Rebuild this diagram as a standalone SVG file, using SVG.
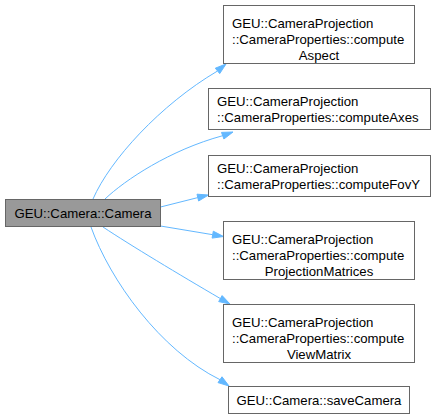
<svg xmlns="http://www.w3.org/2000/svg" width="435" height="419" viewBox="0 0 435 419">
<style>
text{font-family:"Liberation Sans",Arial,Helvetica,sans-serif;font-size:13.2px;fill:#000}
.n{fill:#fff;stroke:#666;stroke-width:1}
.m{fill:#999;stroke:#666;stroke-width:1}
.e{fill:none;stroke:#63b8ff;stroke-width:1}
.a{fill:#63b8ff;stroke:#63b8ff;stroke-width:1}
</style>
<rect width="435" height="419" fill="#fff"/>
<g id="edges">
<path class="e" d="M93,199 C110,160 160,105 217.5,71"/>
<polygon class="a" points="226,64 219.7,73.6 215.3,68.2"/>
<path class="e" d="M105,199 C125,180 170,150 222.7,135.7"/>
<polygon class="a" points="233,132 223.9,139 221.5,132.4"/>
<path class="e" d="M160.5,207 L197.8,197.6"/>
<polygon class="a" points="208.5,195 198.6,201 197,194.2"/>
<path class="e" d="M160.5,226 L212.7,234.7"/>
<polygon class="a" points="223.5,236.5 212.1,238.1 213.3,231.2"/>
<path class="e" d="M103,227 C130,245 180,275 220.4,298.6"/>
<polygon class="a" points="230,304 218.7,301.6 222.1,295.6"/>
<path class="e" d="M91,227 C110,280 160,350 220,379.7"/>
<polygon class="a" points="229,386 218,382.6 222,376.8"/>
</g>
<g id="node-main">
<rect class="m" x="5.5" y="199.5" width="155" height="27"/>
<text x="83" y="217.5" text-anchor="middle">GEU::Camera::Camera</text>
</g>
<g id="node-aspect">
<rect class="n" x="223.5" y="5.5" width="191" height="58"/>
<text x="232" y="27.5">GEU::CameraProjection</text>
<text x="232" y="43.5">::CameraProperties::compute</text>
<text x="319" y="59.5" text-anchor="middle">Aspect</text>
</g>
<g id="node-axes">
<rect class="n" x="208.5" y="88.5" width="222" height="41"/>
<text x="217" y="106">GEU::CameraProjection</text>
<text x="217" y="122">::CameraProperties::computeAxes</text>
</g>
<g id="node-fovy">
<rect class="n" x="208.5" y="155.5" width="222" height="41"/>
<text x="217" y="173">GEU::CameraProjection</text>
<text x="217" y="189">::CameraProperties::computeFovY</text>
</g>
<g id="node-projmat">
<rect class="n" x="223.5" y="221.5" width="191" height="58"/>
<text x="232" y="243.5">GEU::CameraProjection</text>
<text x="232" y="259.5">::CameraProperties::compute</text>
<text x="319" y="275.5" text-anchor="middle">ProjectionMatrices</text>
</g>
<g id="node-viewmat">
<rect class="n" x="223.5" y="304.5" width="191" height="58"/>
<text x="232" y="326.5">GEU::CameraProjection</text>
<text x="232" y="342.5">::CameraProperties::compute</text>
<text x="319" y="358.5" text-anchor="middle">ViewMatrix</text>
</g>
<g id="node-save">
<rect class="n" x="228.5" y="386.5" width="181" height="27"/>
<text x="319" y="404.5" text-anchor="middle">GEU::Camera::saveCamera</text>
</g>
</svg>
